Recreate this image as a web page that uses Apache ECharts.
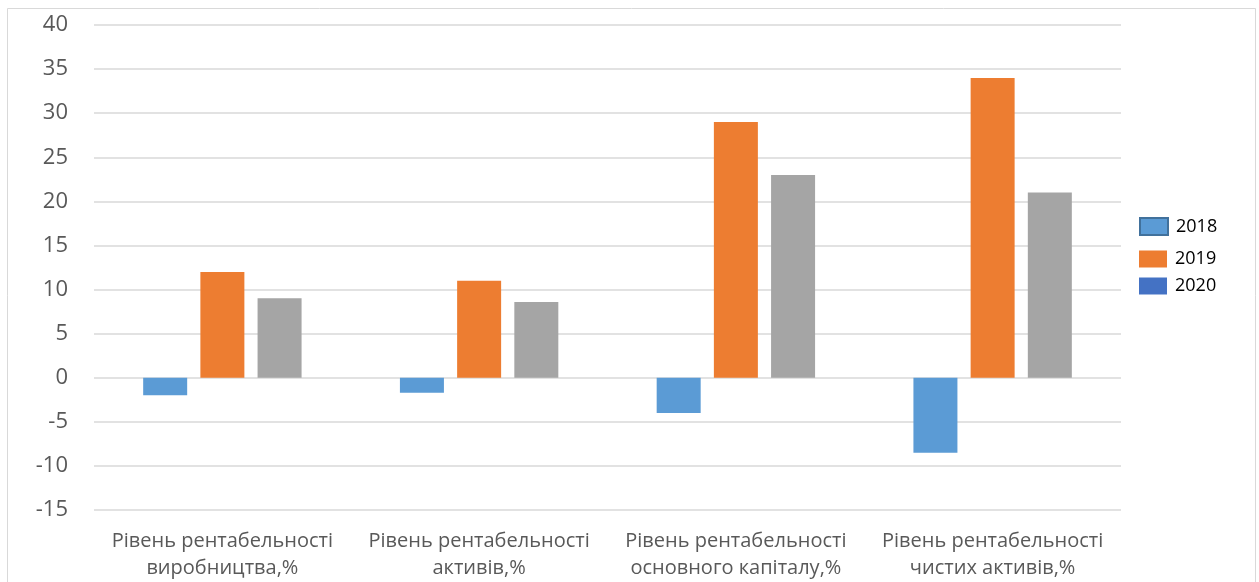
<!DOCTYPE html>
<html>
<head>
<meta charset="utf-8">
<script src="https://cdn.jsdelivr.net/npm/echarts@6/dist/echarts.min.js"></script>
<style>
  html, body { margin: 0; padding: 0; background: #fff; }
  #chart { width: 1259px; height: 582px; }
</style>
</head>
<body>
<div id="chart"></div>
<script>
// Profitability indicators by year
const categories = [
  'Рівень рентабельності\nвиробництва,%',
  'Рівень рентабельності\nактивів,%',
  'Рівень рентабельності\nосновного капіталу,%',
  'Рівень рентабельності\nчистих активів,%'
];
const seriesNames = ['2018', '2019', '2020'];
const values2018 = [-2, -1.7, -4, -8.5];
const values2019 = [12, 11, 29, 34];
const values2020 = [9, 8.6, 23, 21];
const yTicks = { min: -15, max: 40, interval: 5 };

const barColors = ['#5B9BD5', '#ED7D31', '#A5A5A5'];
const fontFamily = '"Open Sans", "Noto Sans", sans-serif';

// legend swatches (each placed on its own row)
const legendSwatches = [
  { name: '2018', top: 212, itemStyle: { color: '#5B9BD5', borderColor: '#41719C', borderWidth: 2 } },
  { name: '2019', top: 245, itemStyle: { color: '#ED7D31' } },
  { name: '2020', top: 272, itemStyle: { color: '#4472C4' } }
];

const chart = echarts.init(document.getElementById('chart'), null, { renderer: 'canvas' });

const seriesData = [values2018, values2019, values2020];

chart.setOption({
  animation: false,
  backgroundColor: '#ffffff',
  textStyle: { fontFamily: fontFamily },
  graphic: [{
    type: 'rect',
    shape: { x: 7.5, y: 8.5, width: 1248, height: 600 },
    style: { fill: 'none', stroke: '#d9d9d9', lineWidth: 1 },
    silent: true,
    z: -1
  }],
  legend: legendSwatches.map(s => ({
    left: 1134,
    top: s.top,
    orient: 'vertical',
    itemWidth: 28,
    itemHeight: 17,
    itemGap: 0,
    icon: 'rect',
    selectedMode: false,
    textStyle: { fontSize: 18, color: '#000', fontFamily: fontFamily, padding: [2, 0, 0, 3] },
    data: [{ name: s.name, itemStyle: s.itemStyle }]
  })),
  grid: { left: 94, right: 138, top: 25, bottom: 71, containLabel: false },
  xAxis: {
    type: 'category',
    data: categories,
    axisLine: { show: false, onZero: false },
    axisTick: { show: false },
    axisLabel: {
      color: '#595959',
      fontSize: 20,
      lineHeight: 27,
      margin: 18,
      interval: 0,
      fontFamily: fontFamily
    }
  },
  yAxis: {
    type: 'value',
    min: yTicks.min,
    max: yTicks.max,
    interval: yTicks.interval,
    axisLine: { show: false },
    axisTick: { show: false },
    axisLabel: { color: '#595959', fontSize: 22, margin: 26, fontFamily: fontFamily },
    splitLine: { lineStyle: { color: '#d9d9d9', width: 1.5 } }
  },
  series: seriesNames.map((name, i) => ({
    name: name,
    type: 'bar',
    data: seriesData[i],
    barWidth: 44,
    barGap: '30%',
    itemStyle: { color: barColors[i] }
  }))
});
</script>
</body>
</html>
